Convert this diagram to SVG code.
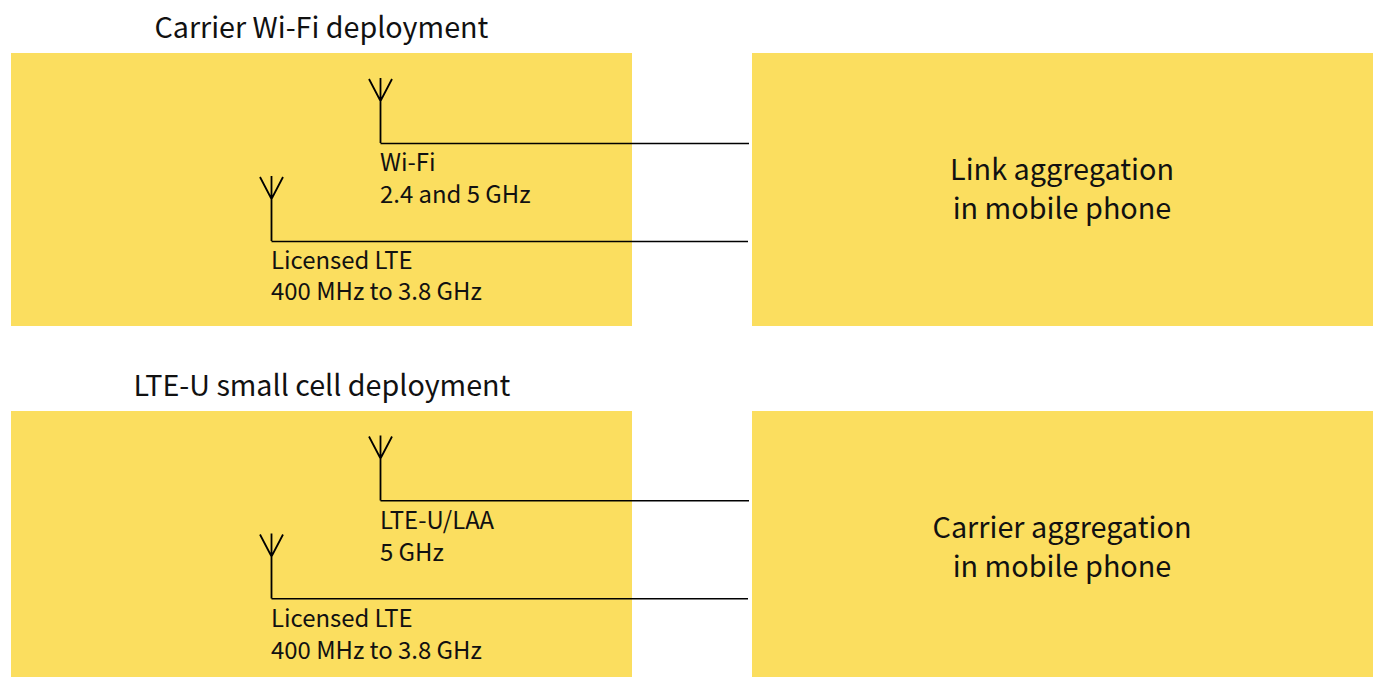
<svg xmlns="http://www.w3.org/2000/svg" width="1378" height="677" viewBox="0 0 1378 677">
<style>
.box{fill:#fbde5f}
.ln{fill:none;stroke:#000;stroke-width:1.5}
text{font-family:"Noto Sans CJK SC","Noto Sans",sans-serif;fill:#111}
.t{font-size:28.700px}.l{font-size:23.900px}.c{font-size:28.800px;text-anchor:middle}
</style>
<defs>
<g id="ant"><path class="ln" style="stroke-width:1.8" d="M0 0V-65M-11.500 -64L0 -42L11.500 -64"/></g>
</defs>
<g id="panel-top-left"><rect class="box" x="11" y="53" width="621" height="273"/></g>
<g id="panel-top-right"><rect class="box" x="752" y="53" width="621" height="273"/><text class="c" x="1062" y="180">Link aggregation</text><text class="c" x="1062" y="219">in mobile phone</text></g>
<g id="panel-bottom-left"><rect class="box" x="11" y="411" width="621" height="266"/></g>
<g id="panel-bottom-right"><rect class="box" x="752" y="411" width="621" height="266"/><text class="c" x="1062" y="538">Carrier aggregation</text><text class="c" x="1062" y="577">in mobile phone</text></g>
<g id="title-top"><text class="t" x="154.500" y="38">Carrier Wi-Fi deployment</text></g>
<g id="title-bottom"><text class="t" x="133.500" y="396">LTE-U small cell deployment</text></g>
<g id="connectors">
<use href="#ant" x="380.500" y="143"/><path class="ln" d="M380.500 143.500H749"/>
<use href="#ant" x="271.500" y="241"/><path class="ln" d="M271.500 241.500H748"/>
<use href="#ant" x="380.500" y="500.500"/><path class="ln" d="M380.500 500.800H749"/>
<use href="#ant" x="271.500" y="598.500"/><path class="ln" d="M271.500 598.800H748"/>
</g>
<g id="label-wifi"><text class="l" x="380" y="171">Wi-Fi</text><text class="l" x="380" y="203">2.4 and 5 GHz</text></g>
<g id="label-lte-1"><text class="l" x="271" y="269">Licensed LTE</text><text class="l" x="271" y="300">400 MHz to 3.8 GHz</text></g>
<g id="label-lteu"><text class="l" x="380" y="529">LTE-U/LAA</text><text class="l" x="380" y="561">5 GHz</text></g>
<g id="label-lte-2"><text class="l" x="271" y="627">Licensed LTE</text><text class="l" x="271" y="659">400 MHz to 3.8 GHz</text></g>
</svg>
